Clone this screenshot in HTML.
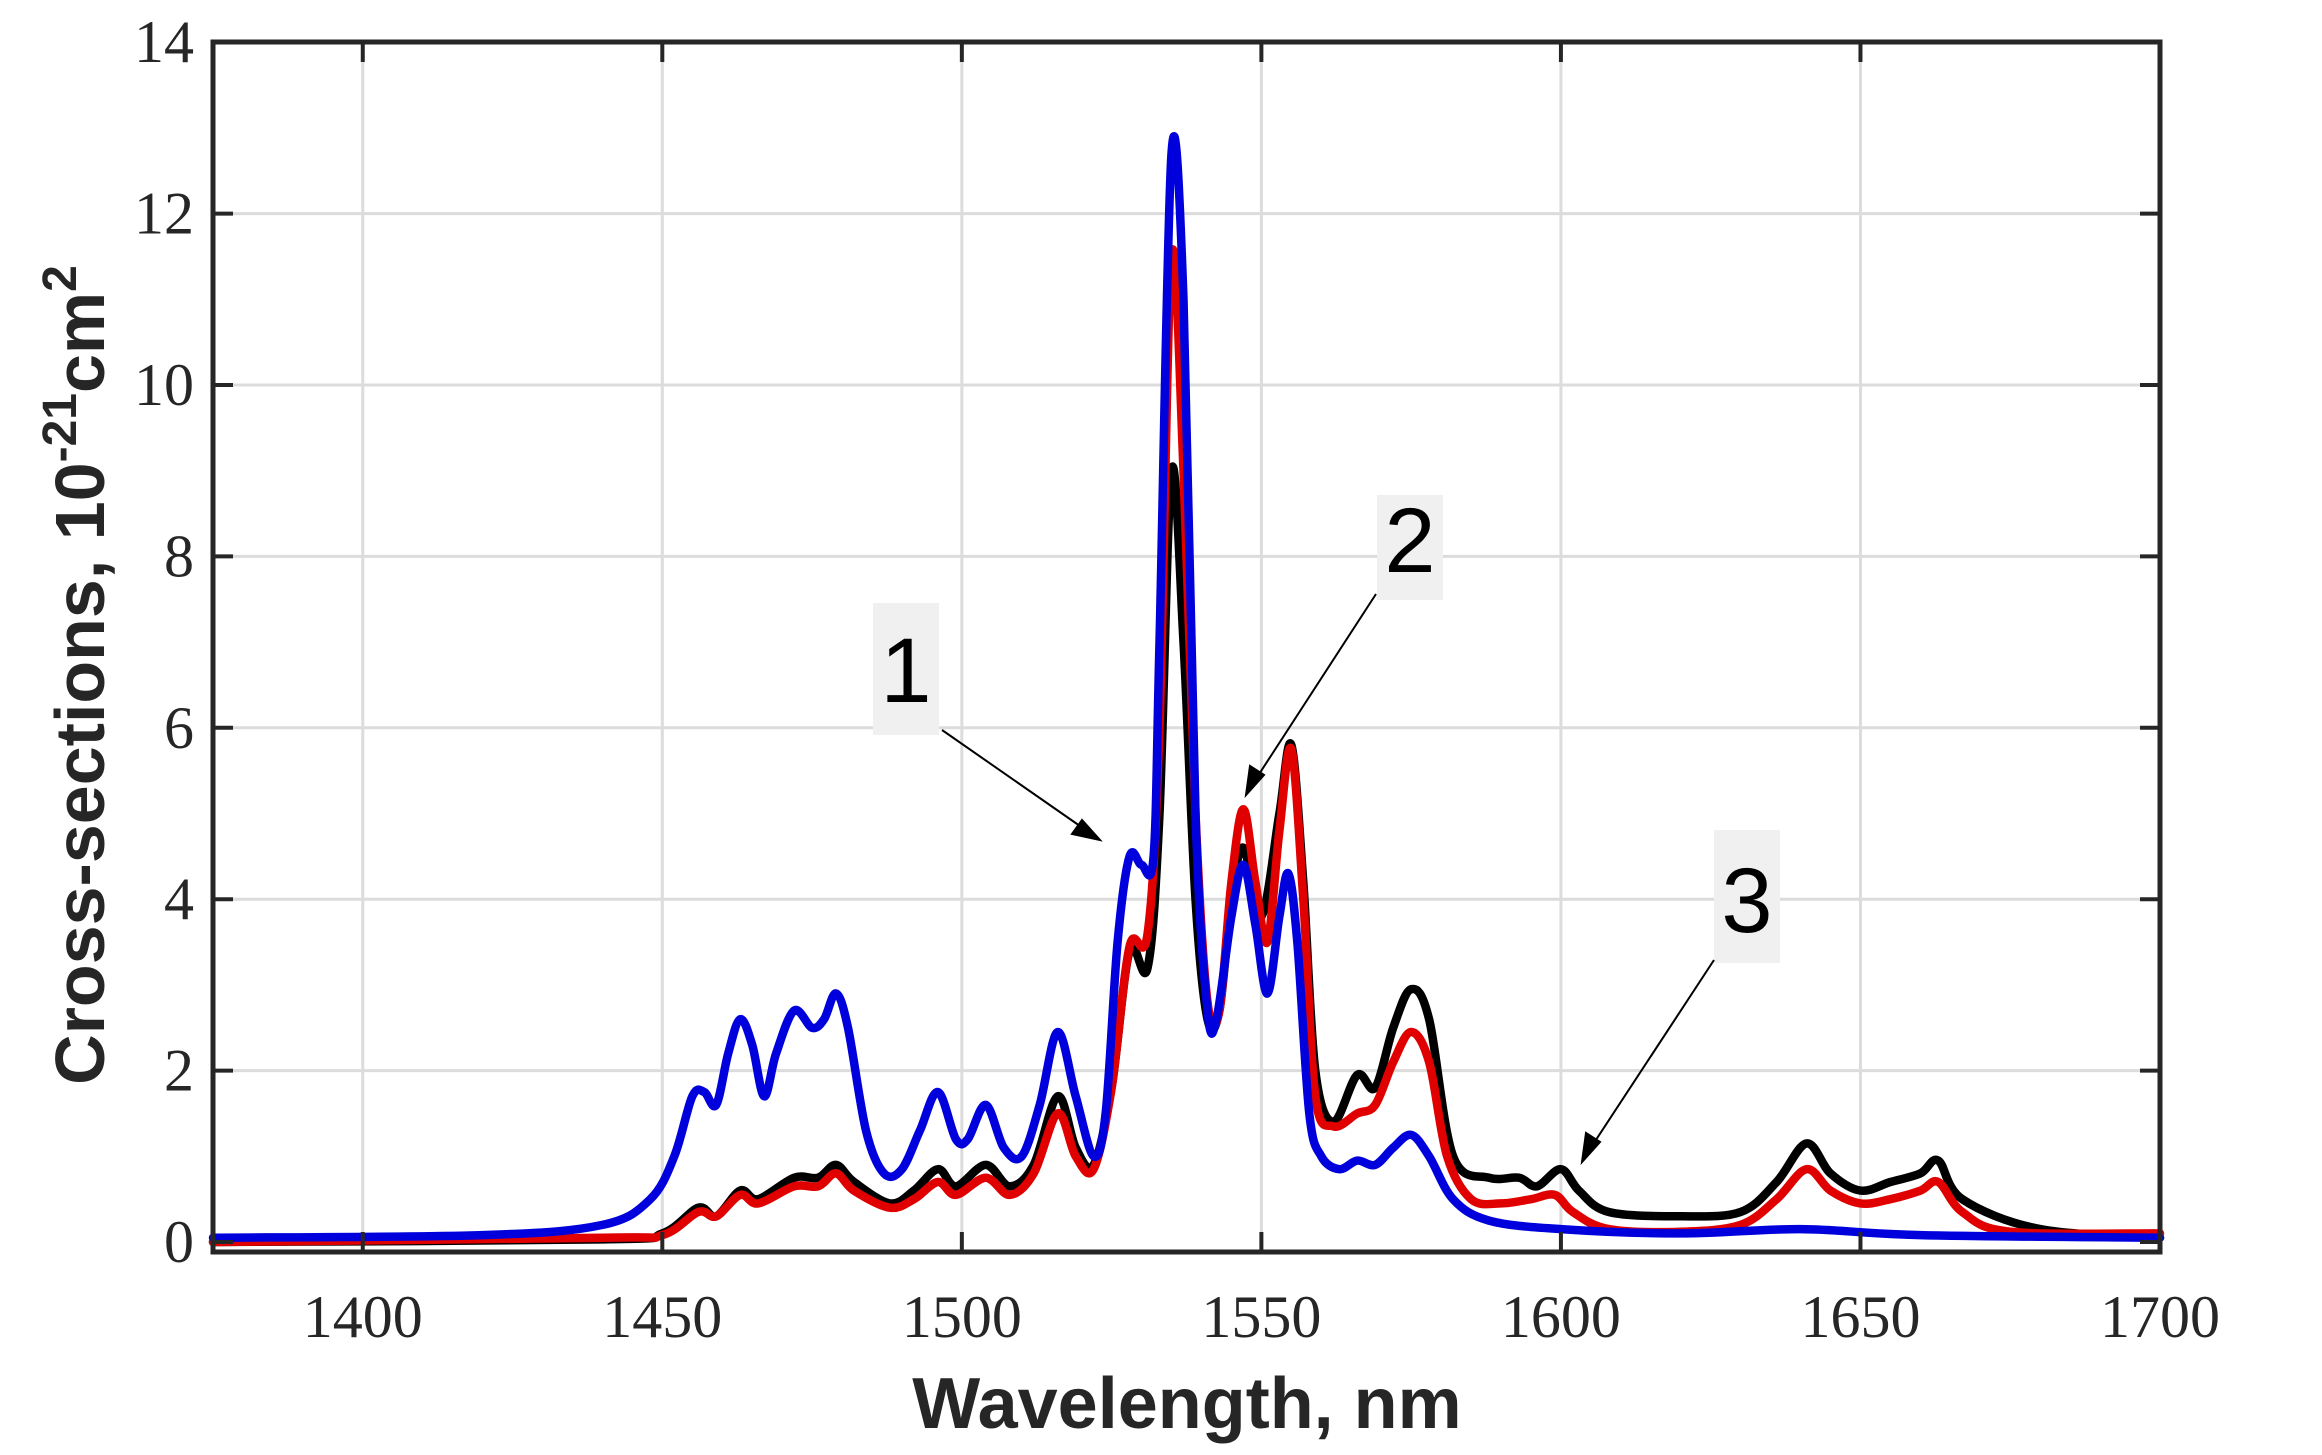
<!DOCTYPE html>
<html><head><meta charset="utf-8"><style>
html,body{margin:0;padding:0;background:#fff;}
svg{display:block;}
</style></head><body>
<svg id="s" width="2322" height="1455" xmlns="http://www.w3.org/2000/svg">
<rect width="2322" height="1455" fill="#fff"/>
<g id="grid" stroke="#dcdcdc" stroke-width="3"></g>
<g id="curves" fill="none" stroke-width="8.5" stroke-linejoin="round" stroke-linecap="round"></g>
<rect x="213" y="42" width="1947" height="1210" fill="none" stroke="#262626" stroke-width="5"/>
<g id="ticks" stroke="#262626" stroke-width="4"></g>
<g id="labels" font-family="Liberation Serif, serif" font-size="60" fill="#262626"></g>
<text x="1187" y="1428" text-anchor="middle" font-family="Liberation Sans, sans-serif" font-weight="bold" font-size="72" fill="#262626">Wavelength, nm</text>
<text transform="translate(104,675) rotate(-90)" text-anchor="middle" font-family="Liberation Sans, sans-serif" font-weight="bold" font-size="70" fill="#262626">Cross-sections, 10<tspan dy="-28" font-size="48">-21</tspan><tspan dy="28">cm</tspan><tspan dy="-28" font-size="48">2</tspan></text>
<!-- annotations -->
<rect x="873" y="603" width="66" height="132" fill="#f0f0f0"/>
<text x="906" y="702" text-anchor="middle" font-family="Liberation Sans, sans-serif" font-size="92" fill="#000">1</text>
<rect x="1377" y="495" width="66" height="105" fill="#f0f0f0"/>
<text x="1410" y="572" text-anchor="middle" font-family="Liberation Sans, sans-serif" font-size="92" fill="#000">2</text>
<rect x="1714" y="830" width="66" height="133" fill="#f0f0f0"/>
<text x="1747" y="932" text-anchor="middle" font-family="Liberation Sans, sans-serif" font-size="92" fill="#000">3</text>
<g stroke="#000" stroke-width="2" fill="#000">
<line x1="942" y1="730" x2="1090" y2="833"/><polygon points="1100,840 1072,834 1082,820"/>
<line x1="1376" y1="594" x2="1252" y2="785"/><polygon points="1246,795 1250,766 1264,775"/>
<line x1="1714" y1="960" x2="1588" y2="1152"/><polygon points="1582,1162 1586,1133 1600,1142"/>
</g>
</svg>
<script>
var X0=213,X1=2160,L0=1375,L1=1700,Y0=1242,PU=85.7;
function px(l){return X0+(l-L0)*(X1-X0)/(L1-L0);}
function py(v){return Y0-v*PU;}
var ns="http://www.w3.org/2000/svg";
function el(p,t,a,txt){var e=document.createElementNS(ns,t);for(var k in a)e.setAttribute(k,a[k]);if(txt!=null)e.textContent=txt;document.getElementById(p).appendChild(e);}
for(var l=1400;l<=1650;l+=50){el('grid','line',{x1:px(l),x2:px(l),y1:42,y2:1252});}
for(var v=2;v<=12;v+=2){el('grid','line',{x1:213,x2:2160,y1:py(v),y2:py(v)});}
for(var l=1400;l<=1700;l+=50){el('ticks','line',{x1:px(l),x2:px(l),y1:1252,y2:1232});el('ticks','line',{x1:px(l),x2:px(l),y1:42,y2:62});
 el('labels','text',{x:px(l),y:1337,'text-anchor':'middle'},String(l));}
for(var v=0;v<=14;v+=2){el('ticks','line',{x1:213,x2:233,y1:py(v),y2:py(v)});el('ticks','line',{x1:2140,x2:2160,y1:py(v),y2:py(v)});
 el('labels','text',{x:194,y:py(v)+20,'text-anchor':'end'},String(v));}
function path(pts){var P=pts.map(function(p){return [px(p[0]),py(p[1])];});var d='M'+P[0][0]+','+P[0][1];
 for(var i=0;i<P.length-1;i++){var p0=P[i-1]||P[i],p1=P[i],p2=P[i+1],p3=P[i+2]||p2;
 var c1=[p1[0]+(p2[0]-p0[0])/6,p1[1]+(p2[1]-p0[1])/6],c2=[p2[0]-(p3[0]-p1[0])/6,p2[1]-(p3[1]-p1[1])/6];
 d+=' C'+c1[0].toFixed(1)+','+c1[1].toFixed(1)+' '+c2[0].toFixed(1)+','+c2[1].toFixed(1)+' '+p2[0].toFixed(1)+','+p2[1].toFixed(1);}return d;}
var black=[[1375,0],[1440,0.03],[1450,0.1],[1456,0.4],[1459,0.3],[1463,0.6],[1466,0.5],[1472,0.75],[1476,0.75],[1479,0.9],[1482,0.7],[1488,0.45],[1492,0.6],[1496,0.85],[1499,0.65],[1504,0.9],[1508,0.65],[1512,0.9],[1516,1.7],[1519,1.1],[1522,0.9],[1525,1.8],[1528,3.4],[1531,3.2],[1533,5],[1535,9.0],[1537,7],[1539,4],[1541,2.6],[1543,2.7],[1545,4.0],[1547,4.6],[1550,3.8],[1553,5.0],[1555,5.8],[1557,4.2],[1559,2.0],[1562,1.4],[1566,1.95],[1569,1.8],[1572,2.5],[1575,2.95],[1578,2.6],[1582,1.0],[1588,0.75],[1593,0.75],[1596,0.65],[1600,0.85],[1603,0.6],[1608,0.35],[1620,0.3],[1630,0.35],[1636,0.7],[1641,1.15],[1645,0.8],[1650,0.6],[1655,0.7],[1660,0.8],[1663,0.95],[1667,0.5],[1680,0.15],[1700,0.05]];
var red=[[1375,0.0],[1440,0.05],[1450,0.08],[1456,0.35],[1459,0.3],[1463,0.55],[1466,0.45],[1472,0.65],[1476,0.65],[1479,0.8],[1482,0.6],[1488,0.4],[1492,0.5],[1496,0.7],[1499,0.55],[1504,0.75],[1508,0.55],[1512,0.8],[1516,1.5],[1519,1.0],[1522,0.85],[1525,1.8],[1528,3.45],[1531,3.6],[1533,6],[1535,11.5],[1537,9],[1539,5],[1541,2.8],[1543,2.7],[1545,4.2],[1547,5.05],[1549,4.2],[1551,3.5],[1553,4.8],[1555,5.75],[1557,4.0],[1559,1.7],[1562,1.35],[1566,1.5],[1569,1.6],[1572,2.1],[1575,2.45],[1578,2.1],[1581,1.0],[1585,0.5],[1590,0.45],[1595,0.5],[1599,0.55],[1602,0.35],[1608,0.15],[1620,0.12],[1630,0.2],[1636,0.5],[1641,0.85],[1645,0.6],[1650,0.45],[1655,0.5],[1660,0.6],[1663,0.7],[1667,0.35],[1675,0.12],[1700,0.1]];
var blue=[[1375,0.05],[1420,0.08],[1440,0.2],[1448,0.5],[1452,1.0],[1455,1.7],[1457,1.75],[1459,1.6],[1461,2.2],[1463,2.6],[1465,2.3],[1467,1.7],[1469,2.2],[1472,2.7],[1475,2.5],[1477,2.6],[1479,2.9],[1481,2.5],[1484,1.3],[1487,0.8],[1490,0.85],[1493,1.3],[1496,1.75],[1499,1.2],[1501,1.2],[1504,1.6],[1507,1.1],[1510,1.0],[1513,1.6],[1516,2.45],[1519,1.7],[1522,1.0],[1524,1.5],[1526,3.5],[1528,4.5],[1530,4.4],[1532,4.5],[1533,7],[1535,12.7],[1537,11],[1539,5],[1541,2.7],[1542.5,2.6],[1545,3.8],[1547,4.4],[1549,3.7],[1551,2.9],[1553,3.8],[1554.5,4.3],[1556,3.5],[1558,1.5],[1560,1.0],[1563,0.85],[1566,0.95],[1569,0.9],[1572,1.1],[1575,1.25],[1578,1.0],[1582,0.5],[1588,0.25],[1600,0.15],[1620,0.1],[1640,0.15],[1660,0.08],[1700,0.05]];
el('curves','path',{d:path(black),stroke:'#000'});
el('curves','path',{d:path(red),stroke:'#e00000'});
el('curves','path',{d:path(blue),stroke:'#0000dd'});
</script>
</body></html>
